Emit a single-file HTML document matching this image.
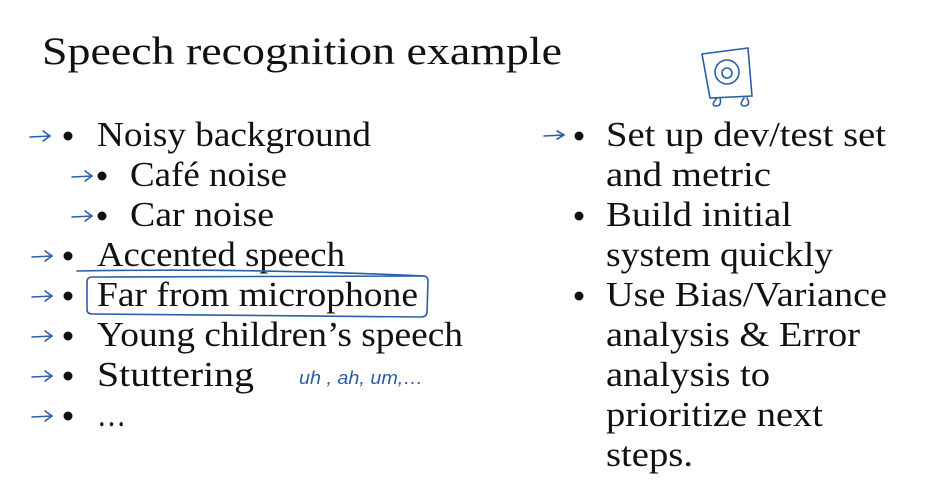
<!DOCTYPE html>
<html><head><meta charset="utf-8"><style>html,body{margin:0;padding:0;background:#fff;}svg{display:block}</style></head>
<body>
<svg width="931" height="485" xmlns="http://www.w3.org/2000/svg" font-family="Liberation Serif, serif" fill="#111">
<text x="42" y="64" font-size="39" textLength="520" lengthAdjust="spacingAndGlyphs">Speech recognition example</text>
<g font-size="35">
<text x="97" y="146" textLength="274" lengthAdjust="spacingAndGlyphs">Noisy background</text>
<text x="130" y="186" textLength="157" lengthAdjust="spacingAndGlyphs">Café noise</text>
<text x="130" y="226" textLength="144" lengthAdjust="spacingAndGlyphs">Car noise</text>
<text x="97" y="266" textLength="248" lengthAdjust="spacingAndGlyphs">Accented speech</text>
<text x="97" y="306" textLength="321" lengthAdjust="spacingAndGlyphs">Far from microphone</text>
<text x="97" y="346" textLength="366" lengthAdjust="spacingAndGlyphs">Young children’s speech</text>
<text x="97" y="386" textLength="157" lengthAdjust="spacingAndGlyphs">Stuttering</text>
<text x="97" y="426" textLength="29" lengthAdjust="spacingAndGlyphs">…</text>
<text x="606" y="146" textLength="280" lengthAdjust="spacingAndGlyphs">Set up dev/test set</text>
<text x="606" y="186" textLength="165" lengthAdjust="spacingAndGlyphs">and metric</text>
<text x="606" y="226" textLength="186" lengthAdjust="spacingAndGlyphs">Build initial</text>
<text x="606" y="266" textLength="227" lengthAdjust="spacingAndGlyphs">system quickly</text>
<text x="606" y="306" textLength="281" lengthAdjust="spacingAndGlyphs">Use Bias/Variance</text>
<text x="606" y="346" textLength="254" lengthAdjust="spacingAndGlyphs">analysis &amp; Error</text>
<text x="606" y="386" textLength="164" lengthAdjust="spacingAndGlyphs">analysis to</text>
<text x="606" y="426" textLength="217" lengthAdjust="spacingAndGlyphs">prioritize next</text>
<text x="606" y="466" textLength="87" lengthAdjust="spacingAndGlyphs">steps.</text>
</g>
<g>
<circle cx="68" cy="136" r="4.5"/><circle cx="102" cy="176" r="4.5"/><circle cx="102" cy="216" r="4.5"/>
<circle cx="68" cy="256" r="4.5"/><circle cx="68" cy="296" r="4.5"/><circle cx="68" cy="336" r="4.5"/>
<circle cx="68" cy="376" r="4.5"/><circle cx="68" cy="416" r="4.5"/>
<circle cx="579" cy="136" r="4.5"/><circle cx="579" cy="216" r="4.5"/><circle cx="579" cy="296" r="4.5"/>
</g>
<g stroke="#2b5ea8" stroke-width="1.6" fill="none" stroke-linecap="round">
<path d="M30 137 L50 136 M43 131 L50 136 L43 141"/>
<path d="M72 177 L92 176 M85 171 L92 176 L85 181"/>
<path d="M72 217 L92 216 M85 211 L92 216 L85 221"/>
<path d="M32 257 L52 256 M45 251 L52 256 L45 261"/>
<path d="M32 297 L52 296 M45 291 L52 296 L45 301"/>
<path d="M32 337 L52 336 M45 331 L52 336 L45 341"/>
<path d="M32 377 L52 376 M45 371 L52 376 L45 381"/>
<path d="M32 417 L52 416 M45 411 L52 416 L45 421"/>
<path d="M544 136 L564 135 M557 131 L564 135 L557 139"/>
<path d="M77 271 Q250 268 425 276"/>
<path d="M92 277 L423 276 Q428 276 428 281 L427 313 Q426 317 421 317 L92 314 Q87 314 87 309 L87 282 Q87 277 92 277 Z"/>
<path d="M702 54 L748 48 L752 96 L710 98 Z"/>
<circle cx="727" cy="72" r="12"/><circle cx="727" cy="73" r="5"/>
<path d="M717 98 Q710 106 716 106 Q722 106 720 98 M744 98 Q738 106 745 106 Q751 105 747 98"/>
<text x="299" y="384" font-family="Liberation Sans, sans-serif" font-size="18" font-style="italic" fill="#2b5ea8" stroke="none" textLength="124" lengthAdjust="spacingAndGlyphs">uh , ah, um,…</text>
</g>
</svg>
</body></html>
